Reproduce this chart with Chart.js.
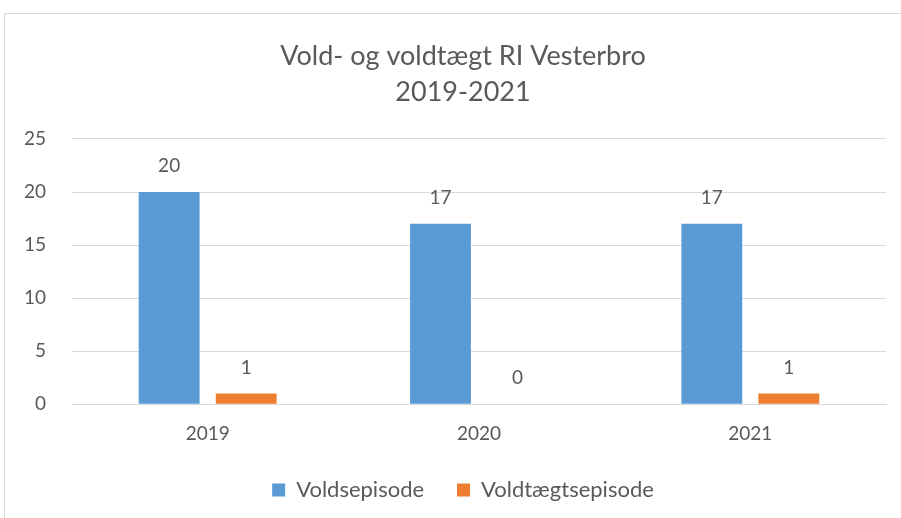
<!DOCTYPE html>
<html>
<head>
<meta charset="utf-8">
<script src="https://cdn.jsdelivr.net/npm/chart.js@4/dist/chart.umd.min.js"></script>
<style>
  html, body { margin: 0; padding: 0; background: #fff; overflow: hidden; }
  #frame { position: absolute; left: 4px; top: 13px; width: 1000px; height: 600px; border: 1px solid #d9d9d9; }
  #wrap { position: absolute; left: 0; top: 0; width: 901px; height: 518px; }
</style>
</head>
<body>
<div id="frame"></div>
<div id="wrap"><canvas id="chart"></canvas></div>
<script>
var years = ["2019", "2020", "2021"];
var voldValues = [20, 17, 17];
var voldtaegtValues = [1, 0, 1];
var seriesNames = ["Voldsepisode", "Voldtægtsepisode"];
var titleLines = ["Vold- og voldtægt RI Vesterbro", "2019-2021"];
var yTicks = [0, 5, 10, 15, 20, 25];

var textColor = "#595959";
var fontName = "Lato";

// draws the value above each bar
var barLabels = {
    id: "barLabels",
    afterDatasetsDraw: function(chart) {
        var ctx = chart.ctx;
        ctx.save();
        ctx.fillStyle = textColor;
        ctx.font = "19px " + fontName;
        ctx.textAlign = "center";
        ctx.textBaseline = "middle";
        chart.data.datasets.forEach(function(ds, i) {
            var meta = chart.getDatasetMeta(i);
            meta.data.forEach(function(bar, j) {
                ctx.fillText(String(ds.data[j]), bar.x, bar.y - 26);
            });
        });
        ctx.restore();
    }
};

var elem = document.getElementById("chart").getContext("2d");

const newChart = new Chart(elem, {
    type: "bar",
    data: {
        labels: years,
        datasets: [{
            label: seriesNames[0],
            data: voldValues,
            backgroundColor: "#5b9bd5",
            categoryPercentage: 0.568,
            barPercentage: 0.79
        }, {
            label: seriesNames[1],
            data: voldtaegtValues,
            backgroundColor: "#ed7d31",
            categoryPercentage: 0.568,
            barPercentage: 0.79
        }]
    },
    options: {
        responsive: true,
        maintainAspectRatio: false,
        animation: false,
        layout: {
            // left padding pushes title and legend centre to the right like the original
            padding: { left: 40, right: 15, top: 0, bottom: 7 }
        },
        plugins: {
            title: {
                display: true,
                text: titleLines,
                color: textColor,
                font: { family: fontName, size: 27, weight: "normal", lineHeight: 1.333 },
                padding: { top: 38, bottom: 29 }
            },
            legend: {
                position: "bottom",
                labels: {
                    color: textColor,
                    font: { family: fontName, size: 22 },
                    boxWidth: 13,
                    boxHeight: 13,
                    padding: 16,
                    generateLabels: function(chart) {
                        // a bit of extra room between the two entries
                        var items = Chart.defaults.plugins.legend.labels.generateLabels(chart);
                        items[0].text = items[0].text + "   ";
                        return items;
                    }
                }
            },
            tooltip: { enabled: false }
        },
        scales: {
            x: {
                grid: { display: false, drawTicks: false },
                border: { display: true, color: "#d9d9d9", width: 1 },
                ticks: { color: textColor, font: { family: fontName, size: 19 }, padding: 18 }
            },
            y: {
                min: 0,
                max: 25,
                afterBuildTicks: function(axis) {
                    axis.ticks = yTicks.map(function(v) { return { value: v }; });
                },
                afterFit: function(axis) { axis.width = 32; },
                grid: { color: "#d9d9d9", drawTicks: false },
                border: { display: false },
                // mirrored so the labels are not clipped to the narrow axis box
                ticks: { color: textColor, font: { family: fontName, size: 19 }, mirror: true, crossAlign: "far", padding: -48 }
            }
        }
    },
    plugins: [barLabels]
});
</script>
</body>
</html>
